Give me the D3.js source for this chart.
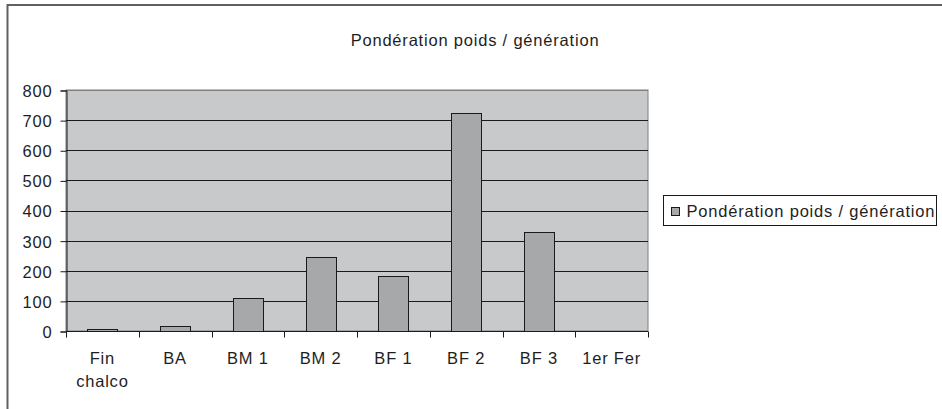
<!DOCTYPE html>
<html><head><meta charset="utf-8">
<script src="https://cdn.jsdelivr.net/npm/d3@7"></script>
<style>body{margin:0;background:#fff}svg{display:block}text{font-family:"Liberation Sans",Arial,sans-serif;fill:#1e1e1e;letter-spacing:0.8px}</style>
</head><body><svg id="c" width="942" height="409"></svg>
<script>
const categories = ["Fin chalco","BA","BM 1","BM 2","BF 1","BF 2","BF 3","1er Fer"];
const values = [5, 18, 111, 246, 184, 724, 330, 0];
const yTicks = [0,100,200,300,400,500,600,700,800];
const seriesName = "Pondération poids / génération";
const title = "Pondération poids / génération";

const svg = d3.select("#c");
// outer frame (extends beyond viewport)
svg.append("rect").attr("x",7.5).attr("y",5).attr("width",1000).attr("height",500)
  .attr("fill","none").attr("stroke","#606060").attr("stroke-width",2);

const plot = {left:66, right:648, top:90, bottom:331};
const x = d3.scaleBand().domain(categories).range([plot.left, plot.right]).paddingInner(0).paddingOuter(0);
const y = d3.scaleLinear().domain([0,800]).range([plot.bottom, plot.top]);

svg.append("rect").attr("x",plot.left).attr("y",plot.top)
  .attr("width",plot.right-plot.left).attr("height",plot.bottom-plot.top)
  .attr("fill","#c8c9cb").attr("stroke","#808080").attr("stroke-width",1);

// gridlines
svg.append("g").selectAll("line").data(yTicks.filter(d=>d>0)).join("line")
  .attr("x1",plot.left).attr("x2",plot.right)
  .attr("y1",d=>Math.round(y(d))+0.5).attr("y2",d=>Math.round(y(d))+0.5)
  .attr("stroke",d=>d===800?"#808080":"#1a1a1a").attr("stroke-width",1);

// bars
const bw = 30;
svg.append("g").selectAll("rect").data(values.map((v,i)=>({c:categories[i],v}))).join("rect")
  .attr("x",d=>Math.round(x(d.c)+x.bandwidth()/2-bw/2)+0.5)
  .attr("y",d=>Math.round(y(d.v))+0.5)
  .attr("width",bw)
  .attr("height",d=>Math.max(0,Math.round(y(0))-Math.round(y(d.v))))
  .attr("fill","#a7a8aa").attr("stroke","#1a1a1a").attr("stroke-width",1)
  .attr("display",d=>d.v>0?null:"none");

// y axis
const ya = svg.append("g").attr("transform",`translate(${plot.left+0.5},0.5)`)
  .call(d3.axisLeft(y).tickValues(yTicks).tickSize(6).tickPadding(8));
ya.select(".domain").attr("stroke","#1a1a1a");
ya.selectAll(".tick line").attr("stroke","#1a1a1a");
ya.selectAll("text").attr("font-size",16.5).attr("fill","#1e1e1e").attr("font-family","Liberation Sans, Arial, sans-serif").attr("dy","0.36em");

// x axis
const xa = svg.append("g").attr("transform",`translate(0,${plot.bottom+0.5})`);
xa.append("line").attr("x1",plot.left).attr("x2",plot.right).attr("stroke","#1a1a1a");
const edges = categories.map(c=>x(c)).concat([plot.right]);
xa.selectAll("line.t").data(edges).join("line").attr("class","t")
  .attr("x1",d=>Math.round(d)+0.5).attr("x2",d=>Math.round(d)+0.5).attr("y1",0).attr("y2",6)
  .attr("stroke","#1a1a1a");
const lbl = xa.selectAll("text").data(categories).join("text")
  .attr("text-anchor","middle").attr("font-size",16.5)
  .attr("transform",d=>`translate(${x(d)+x.bandwidth()/2},0)`);
lbl.each(function(d){
  const parts = d==="Fin chalco" ? ["Fin","chalco"] : [d];
  d3.select(this).selectAll("tspan").data(parts).join("tspan")
    .attr("x",0).attr("y",(p,i)=>32+i*23).text(p=>p);
});

// title
svg.append("text").attr("x",475).attr("y",46).attr("text-anchor","middle")
  .attr("font-size",16.5).text(title);

// legend
const lg = svg.append("g");
lg.append("rect").attr("x",663.5).attr("y",195.5).attr("width",273).attr("height",30)
  .attr("fill","#fff").attr("stroke","#1a1a1a");
lg.append("rect").attr("x",671.5).attr("y",207.5).attr("width",8).attr("height",8)
  .attr("fill","#a7a8aa").attr("stroke","#1a1a1a");
lg.append("text").attr("x",686.5).attr("y",217).attr("font-size",16.5).text(seriesName);
</script></body></html>
